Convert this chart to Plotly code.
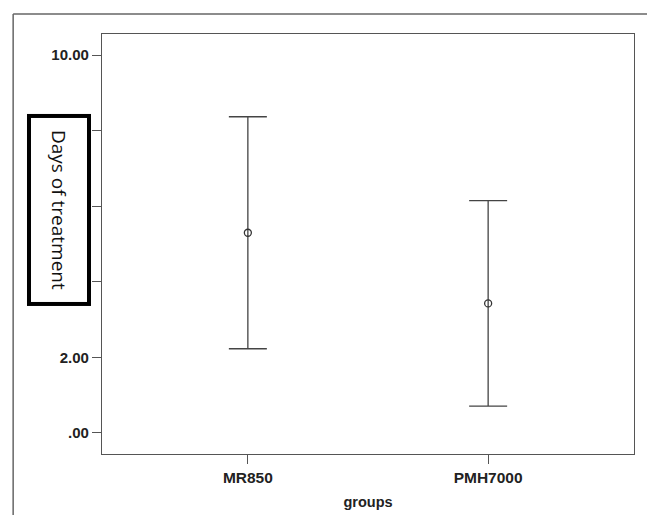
import plotly.graph_objects as go

groups = ["MR850", "PMH7000"]
means = [5.30, 3.43]
errors = [3.07, 2.72]
tick_vals = [0, 2, 4, 6, 8, 10]
tick_text = [".00", "2.00", "", "", "", "10.00"]

fig = go.Figure()
fig.add_trace(go.Scatter(
    x=groups, y=means, mode="markers",
    marker=dict(symbol="circle-open", size=7, color="#333333", line=dict(width=1.3)),
    error_y=dict(type="data", array=errors, visible=True, color="#444444", thickness=1.3, width=19),
    showlegend=False,
))

fam = "Liberation Sans, Arial, sans-serif"
fig.update_layout(
    width=647, height=515,
    margin=dict(l=102, r=13, t=34, b=61),
    paper_bgcolor="white", plot_bgcolor="white",
    xaxis=dict(range=[-0.607, 1.607], showgrid=False, zeroline=False, automargin=False,
               showline=True, linecolor="#555555", linewidth=1.3, mirror=True,
               ticks="outside", ticklen=9, tickcolor="#555555", tickwidth=1,
               tickfont=dict(family=fam, size=15.5, color="#222222", weight="bold"),
               title=dict(text="<b>groups</b>", font=dict(family=fam, size=14.5, color="#222222"), standoff=12)),
    yaxis=dict(range=[-0.556, 10.56], showgrid=False, zeroline=False, automargin=False,
               showline=True, linecolor="#555555", linewidth=1.3, mirror=True,
               tickvals=tick_vals, ticktext=tick_text,
               ticks="outside", ticklen=9, tickcolor="#555555", tickwidth=1,
               tickfont=dict(family=fam, size=15, color="#222222", weight="bold")),
    shapes=[
        dict(type="line", xref="paper", yref="paper", x0=-0.167, x1=-0.167, y0=1.0476, y1=-0.2,
             line=dict(color="#666666", width=1.5)),
        dict(type="line", xref="paper", yref="paper", x0=-0.167, x1=1.05, y0=1.0476, y1=1.0476,
             line=dict(color="#666666", width=1.5)),
    ],
    annotations=[
        dict(text="Days of treatment", xref="paper", yref="paper", x=-0.0808, y=0.581,
             xanchor="center", yanchor="middle", showarrow=False, textangle=90,
             font=dict(family="Open Sans, sans-serif", size=19, color="#111111"),
             bgcolor="white", bordercolor="black", borderwidth=4, width=182, height=54),
    ],
)

fig.write_html("out.html", config={"displayModeBar": False},
               post_script="document.body.style.margin='0';document.body.style.overflow='hidden';")
